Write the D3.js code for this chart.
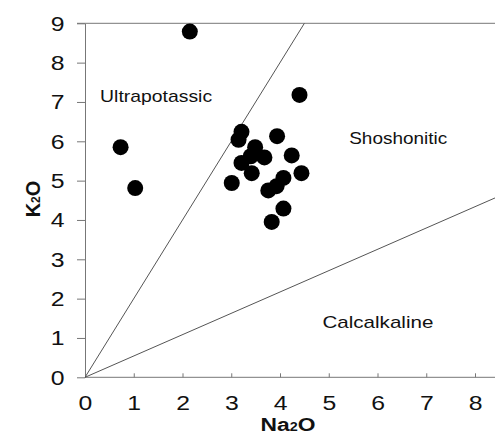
<!DOCTYPE html>
<html><head><meta charset="utf-8">
<script src="https://cdn.jsdelivr.net/npm/d3@7"></script>
<style>
html,body{margin:0;padding:0;background:#fff;}
svg{display:block;font-family:"Liberation Sans",Arial,sans-serif;}
</style></head>
<body><div id="chart"></div>
<script>
const na2o = [2.15, 4.40, 0.73, 1.03, 3.21, 3.15, 3.94, 3.49, 3.68, 3.40, 4.24, 3.21, 3.42, 3.01, 4.44, 4.07, 3.93, 3.76, 4.07, 3.83];
const k2o  = [8.79, 7.18, 5.85, 4.81, 6.24, 6.04, 6.13, 5.85, 5.59, 5.62, 5.64, 5.45, 5.19, 4.94, 5.19, 5.07, 4.86, 4.75, 4.29, 3.95];
const xTicks = [0,1,2,3,4,5,6,7,8];
const yTicks = [0,1,2,3,4,5,6,7,8,9];
const boundaryUltra = [[0,0],[4.5,9]];
const boundaryCalc = [[0,0],[8.41,4.56]];
const fieldNames = ["Ultrapotassic","Shoshonitic","Calcalkaline"];
const fieldPos = [[0.31,7.0],[5.42,5.92],[4.87,1.25]];
const fieldWidths = [112,98,111];

const W=495,H=434;
const svg=d3.select("#chart").append("svg").attr("width",W).attr("height",H);
const x=d3.scaleLinear().domain([0,8.41]).range([85,495]);
const y=d3.scaleLinear().domain([0,9]).range([377.3,23.3]);

// top border line at y=9
svg.append("line").attr("x1",77).attr("x2",W).attr("y1",y(9)).attr("y2",y(9))
  .attr("stroke","#777").attr("stroke-width",1);

const gx=svg.append("g").attr("transform",`translate(0,${y(0)})`)
  .call(d3.axisBottom(x).tickValues(xTicks).tickSizeInner(-4).tickSizeOuter(0).tickPadding(18).tickFormat(d3.format("d")));
const gy=svg.append("g").attr("transform",`translate(${x(0)},0)`)
  .call(d3.axisLeft(y).tickValues(yTicks).tickSizeInner(8).tickSizeOuter(0).tickPadding(9.4).tickFormat(d3.format("d")));
[gx,gy].forEach(g=>{
  g.select(".domain").attr("stroke","#777");
  g.selectAll(".tick line").attr("stroke","#777");
  g.selectAll(".tick text").attr("font-size",21).attr("fill","#111")
    .attr("font-family","Liberation Sans, Arial, sans-serif")
    .attr("transform","scale(1.18,1)");
});
gx.select(".domain").attr("d",`M${x(0)},0H${W}`);

const line=d3.line().x(d=>x(d[0])).y(d=>y(d[1]));
[boundaryUltra,boundaryCalc].forEach(b=>{
  svg.append("path").attr("d",line(b)).attr("fill","none").attr("stroke","#555").attr("stroke-width",1);
});

fieldNames.forEach((n,i)=>{
  svg.append("text").attr("x",x(fieldPos[i][0])).attr("y",y(fieldPos[i][1]))
    .attr("font-size",17).attr("fill","#111")
    .attr("textLength",fieldWidths[i]).attr("lengthAdjust","spacingAndGlyphs").text(n);
});

svg.append("g").selectAll("circle").data(na2o).join("circle")
  .attr("cx",(d)=>x(d)).attr("cy",(d,i)=>y(k2o[i])).attr("r",8).attr("fill","#000");

// axis titles
const xt=svg.append("text").attr("transform","translate(288,431) scale(1.2,1)").attr("text-anchor","middle")
  .attr("font-size",19).attr("font-weight","bold").attr("fill","#111");
xt.append("tspan").text("Na");
xt.append("tspan").attr("font-size",12).text("2");
xt.append("tspan").text("O");

const yt=svg.append("text").attr("transform","translate(40,199) rotate(-90)").attr("text-anchor","middle")
  .attr("font-size",20).attr("font-weight","bold").attr("fill","#111");
yt.append("tspan").text("K");
yt.append("tspan").attr("font-size",12).text("2");
yt.append("tspan").text("O");
</script></body></html>
